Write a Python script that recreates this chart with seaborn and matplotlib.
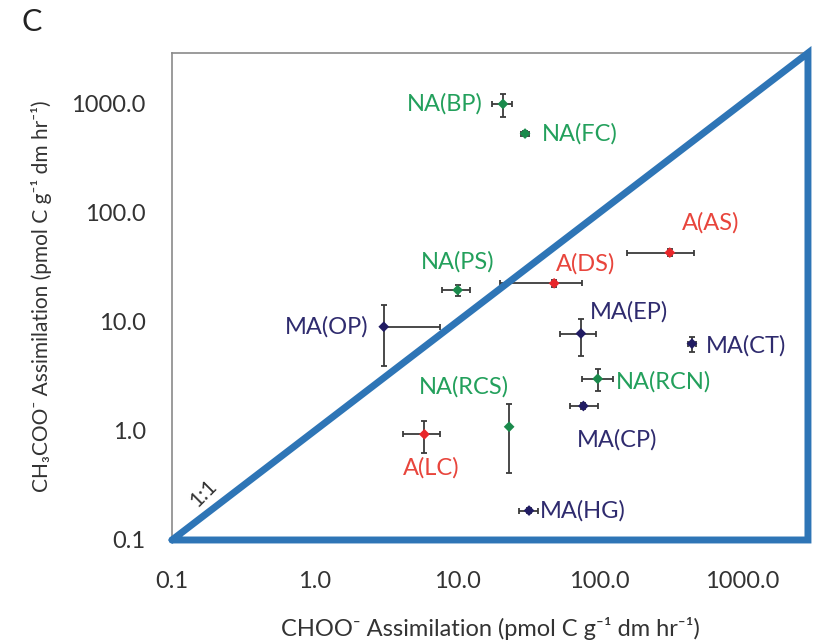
import numpy as np
import pandas as pd
import matplotlib
matplotlib.use('Agg')
import matplotlib.pyplot as plt
import seaborn as sns

# values
sites = ['NA(BP)', 'NA(FC)', 'NA(PS)', 'NA(RCS)', 'NA(RCN)',
         'A(AS)', 'A(DS)', 'A(LC)',
         'MA(OP)', 'MA(EP)', 'MA(CT)', 'MA(CP)', 'MA(HG)']
groups = ['NA', 'NA', 'NA', 'NA', 'NA',
          'A', 'A', 'A',
          'MA', 'MA', 'MA', 'MA', 'MA']
formate = [21, 30, 10.1, 23.2, 97, 311, 48, 5.9, 3.06, 74, 445, 77, 32]
acetate = [990, 530, 19.5, 1.09, 3.0, 43, 22.5, 0.93, 9.0, 7.8, 6.3, 1.69, 0.186]
formate_err_lo = [3.3, 2, 2.3, 0, 22, 154, 28, 1.7, 0, 21, 30, 15, 5]
formate_err_hi = [3.3, 2, 2.3, 0, 28, 150, 27, 1.7, 4.5, 21, 30, 20, 5]
acetate_err = [240, 30, 2.3, 0.68, 0.7, 3, 1.5, 0.3, 5.1, 2.9, 1.0, 0.1, 0.01]
axis_lim = [0.1, 2900]
tick_vals = [0.1, 1, 10, 100, 1000]
tick_labels = ['0.1', '1.0', '10.0', '100.0', '1000.0']

df = pd.DataFrame({'site': sites, 'group': groups,
                   'formate': formate, 'acetate': acetate})

marker_col = {'NA': '#1b8a4c', 'A': '#e8262a', 'MA': '#211c63'}
text_col = {'NA': '#23a05c', 'A': '#e8453c', 'MA': '#2f2b6e'}

# label placement: (ha, dx, dy) in pixels
label_pos = {
    'NA(BP)': ('right', -20, 0), 'NA(FC)': ('left', 17, 0),
    'NA(PS)': ('center', 0, 28), 'NA(RCS)': ('center', -45, 40),
    'NA(RCN)': ('left', 18, -3), 'A(AS)': ('center', 41, 30),
    'A(DS)': ('left', 2, 19), 'A(LC)': ('center', 7, -34),
    'MA(OP)': ('right', -15, 0), 'MA(EP)': ('left', 9, 22),
    'MA(CT)': ('left', 14, -2), 'MA(CP)': ('center', 34, -34),
    'MA(HG)': ('left', 11, 0),
}

sns.set_style('white')
plt.rcParams['font.family'] = ['Lato', 'DejaVu Sans']

fig = plt.figure(figsize=(8.13, 6.42), dpi=100)
ax = fig.add_axes([0.2116, 0.1589, 0.7822, 0.7585])

ax.errorbar(df['formate'], df['acetate'],
            xerr=[formate_err_lo, formate_err_hi], yerr=acetate_err,
            fmt='none', ecolor='#3a3a3a', elinewidth=1.3, capsize=2.5, capthick=1.3, zorder=2)
sns.scatterplot(data=df, x='formate', y='acetate', hue='group', palette=marker_col,
                marker='D', s=30, edgecolor='none', legend=False, ax=ax, zorder=3)

for _, r in df.iterrows():
    ha, dx, dy = label_pos[r['site']]
    ax.annotate(r['site'], (r['formate'], r['acetate']), xytext=(dx, dy),
                textcoords='offset pixels', ha=ha, va='center',
                fontsize=17, color=text_col[r['group']], zorder=4)

ax.set_xscale('log')
ax.set_yscale('log')
ax.set_xlim(axis_lim)
ax.set_ylim(axis_lim)
ax.set_xticks(tick_vals)
ax.set_xticklabels(tick_labels)
ax.set_yticks(tick_vals)
ax.set_yticklabels(tick_labels)
ax.minorticks_off()
ax.tick_params(axis='both', length=0, labelsize=17, colors='#333333')
ax.tick_params(axis='x', pad=22)
ax.tick_params(axis='y', pad=19)

for side in ['left', 'top']:
    ax.spines[side].set_color('#8a8a8a')
    ax.spines[side].set_linewidth(1.2)
for side in ['right', 'bottom']:
    ax.spines[side].set_visible(False)

# 1:1 line and blue triangle
blue = '#2e75b6'
ax.plot([axis_lim[0], axis_lim[1], axis_lim[1], axis_lim[0]],
        [axis_lim[0], axis_lim[1], axis_lim[0], axis_lim[0]],
        color=blue, lw=5, solid_joinstyle='miter', clip_on=False, zorder=5)
ax.text(0.05, 0.095, '1:1', transform=ax.transAxes, fontsize=15, rotation=45,
        color='#333333', ha='center', va='center')

ax.set_xlabel('CHOO\u207b Assimilation (pmol C g\u207b\u00b9 dm hr\u207b\u00b9)',
              fontsize=17, color='#333333', labelpad=18)
ax.set_ylabel('CH\u2083COO\u207b Assimilation (pmol C g\u207b\u00b9 dm hr\u207b\u00b9)',
              fontsize=15, color='#333333', labelpad=14)
fig.text(0.027, 0.965, 'C', fontsize=22, color='#222222', ha='left', va='center')

fig.savefig('out.png', dpi=100)
